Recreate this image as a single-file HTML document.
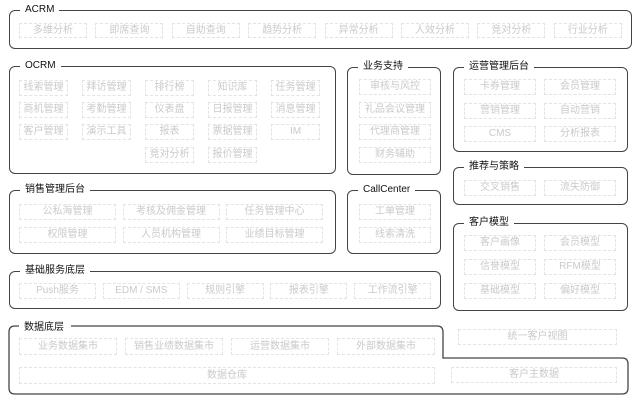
<!DOCTYPE html>
<html><head><meta charset="utf-8"><style>
body{margin:0;width:640px;height:405px;background:#fff;position:relative;overflow:hidden;font-family:"Liberation Sans","Noto Sans CJK SC",sans-serif}
.g{position:absolute;border:1.3px solid #444;border-radius:6px;box-sizing:border-box}
.t{position:absolute;background:#fff;font-size:10px;color:#111;padding:0 5px;line-height:12px;top:-7px;left:10px}
.i{position:absolute;border:1px dashed #e3e3e3;box-sizing:border-box;color:#cacaca;font-size:10px;text-align:center;line-height:14px}
</style></head><body>
<svg style="position:absolute;left:0;top:0" width="640" height="405"><path d="M15 326 H437 Q443 326 443 332 V358 H622 Q628 358 628 364 V388 Q628 394 622 394 H15 Q9 394 9 388 V332 Q9 326 15 326 Z" fill="none" stroke="#444" stroke-width="1.3"/><rect x="19" y="320" width="52" height="12" fill="#fff"/><text x="24" y="330" font-size="10" fill="#111" font-family="Liberation Sans,Noto Sans CJK SC,sans-serif">数据底层</text></svg>
<script>
function g(x,y,w,h,t){const d=document.createElement('div');d.className='g';Object.assign(d.style,{left:x+'px',top:y+'px',width:w+'px',height:h+'px'});d.innerHTML='<span class="t">'+t+'</span>';document.body.appendChild(d);}
function i(x,y,w,h,t){const d=document.createElement('div');d.className='i';Object.assign(d.style,{left:x+'px',top:y+'px',width:w+'px',height:h+'px',lineHeight:(h-2)+'px'});d.textContent=t;document.body.appendChild(d);}
g(9,10,623,39,'ACRM');
['多维分析','即席查询','自助查询','趋势分析','异常分析','人效分析','竞对分析','行业分析'].forEach((t,k)=>i(19+k*76.4,23,68,15,t));
g(9,66,327,108,'OCRM');
const oc=[['线索管理','拜访管理','排行榜','知识库','任务管理'],['商机管理','考勤管理','仪表盘','日报管理','消息管理'],['客户管理','演示工具','报表','票据管理','IM']];
oc.forEach((r,ri)=>r.forEach((t,k)=>i(19+k*63,80+ri*22,49,16,t)));
i(145,147,49,16,'竞对分析');i(208,147,49,16,'报价管理');
g(347,67,94,108,'业务支持');
['审核与风控','礼品会议管理','代理商管理','财务辅助'].forEach((t,k)=>i(359,79+k*22.7,72,16,t));
g(453,67,175,85,'运营管理后台');
[['卡券管理','会员管理'],['营销管理','自动营销'],['CMS','分析报表']].forEach((r,ri)=>r.forEach((t,k)=>i(464+k*80,79+ri*23.5,72,16,t)));
g(453,167,175,38,'推荐与策略');
i(464,180,72,16,'交叉销售');i(544,180,72,16,'流失防御');
g(453,223,175,88,'客户模型');
[['客户画像','会员模型'],['信誉模型','RFM模型'],['基础模型','偏好模型']].forEach((r,ri)=>r.forEach((t,k)=>i(464+k*80,235+ri*24,72,16,t)));
g(9,190,327,64,'销售管理后台');
[['公私海管理','考核及佣金管理','任务管理中心'],['权限管理','人员机构管理','业绩目标管理']].forEach((r,ri)=>r.forEach((t,k)=>i(19+k*103.5,204+ri*23,97,16,t)));
g(347,190,94,64,'CallCenter');
i(359,204,72,16,'工单管理');i(359,227,72,16,'线索清洗');
g(9,271,432,38,'基础服务底层');
['Push服务','EDM / SMS','规则引擎','报表引擎','工作流引擎'].forEach((t,k)=>i(19+k*83.8,283,77,16,t));
['业务数据集市','销售业绩数据集市','运营数据集市','外部数据集市'].forEach((t,k)=>i(19+k*106,338,98,17,t));
i(19,367,416,17,'数据仓库');
i(458,329,159,16,'统一客户视图');
i(451,367,166,16,'客户主数据');
</script>
</body></html>
